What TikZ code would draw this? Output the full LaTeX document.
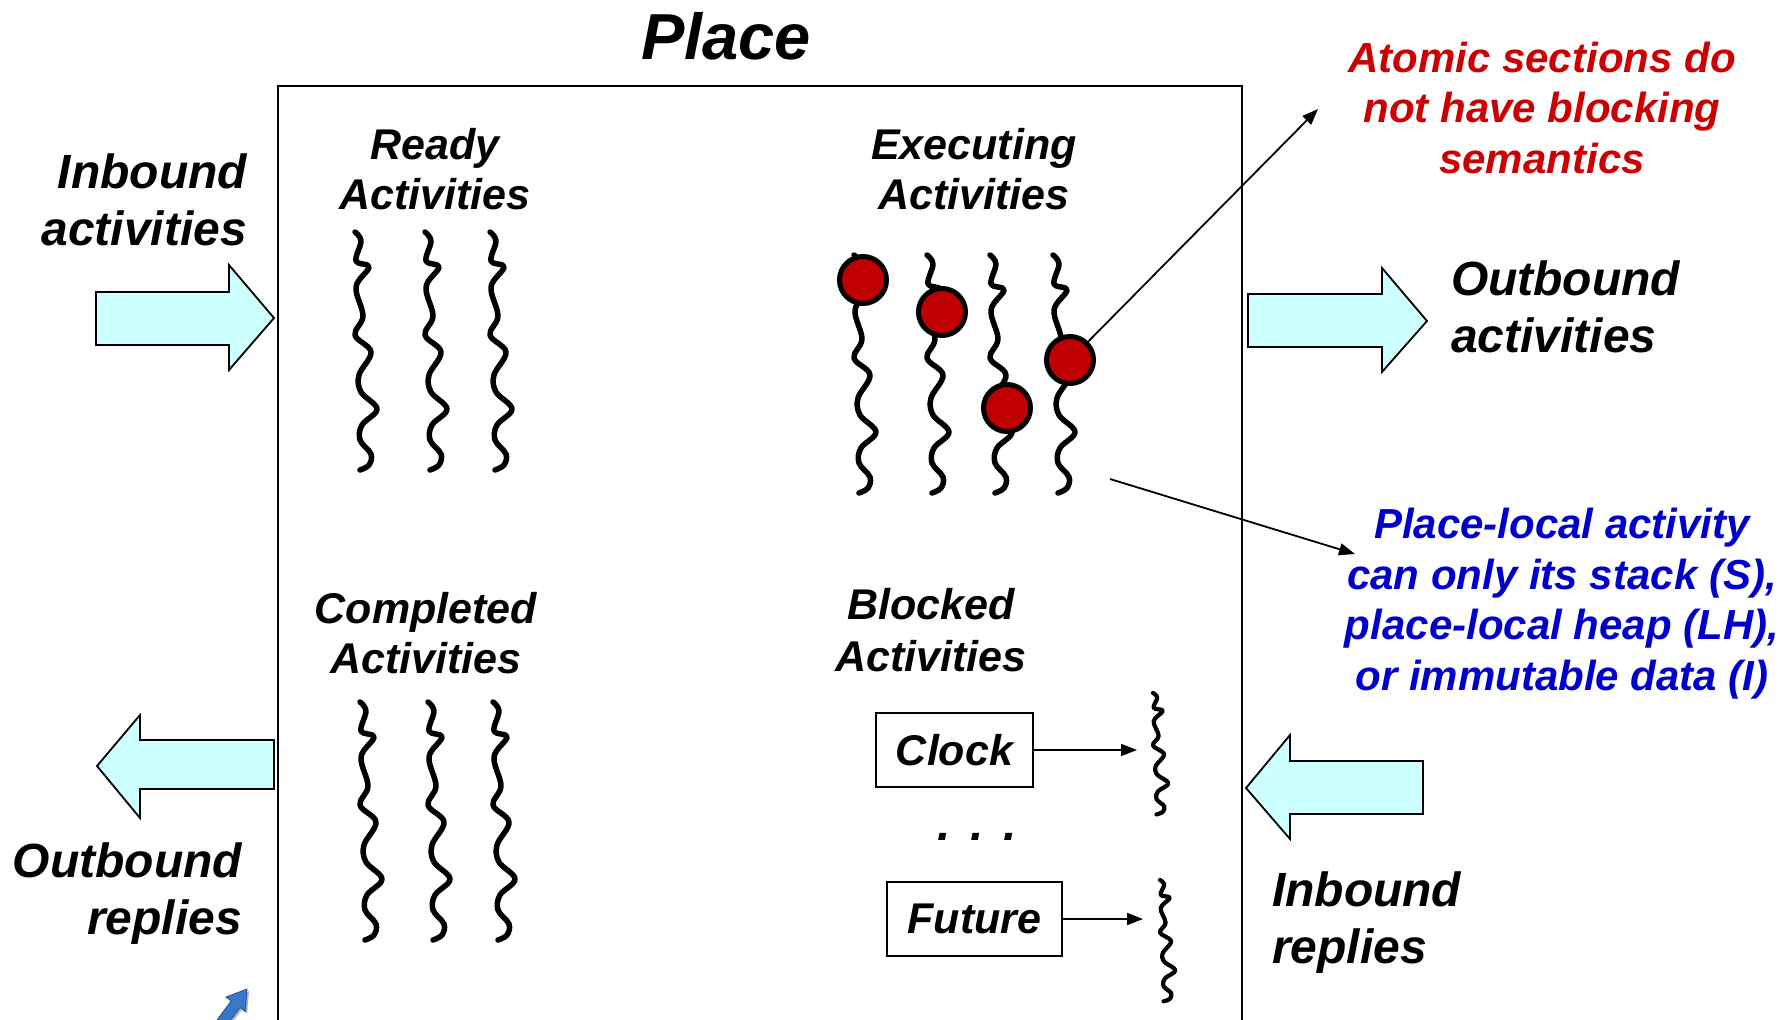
\documentclass[tikz,border=0pt]{standalone}
\usepackage{fontspec}
\setmainfont{Liberation Sans}
\usetikzlibrary{arrows.meta}

\definecolor{arrowfill}{HTML}{CCFFFF}
\definecolor{ballred}{HTML}{C00000}
\definecolor{notered}{HTML}{CC0000}
\definecolor{noteblue}{HTML}{0000CC}
\definecolor{linkblue}{HTML}{3A76CC}

\tikzset{
  txt/.style={inner sep=0pt, outer sep=0pt},
  huge/.style={txt, font=\fontsize{65}{70}\selectfont\bfseries\itshape},
  big/.style={txt, font=\fontsize{48}{57}\selectfont\bfseries\itshape},
  mid/.style={txt, font=\fontsize{43}{50}\selectfont\bfseries\itshape},
  note/.style={txt, font=\fontsize{42}{50.5}\selectfont\bfseries\itshape, align=center},
  blockarrow/.style={draw=black, fill=arrowfill, line width=1.8pt, line join=miter},
  stackbox/.style={draw, line width=2pt, inner sep=0pt, minimum height=74pt,
    font=\fontsize{43}{50}\selectfont\bfseries\itshape},
  ball/.style={circle, draw=black, fill=ballred, line width=5pt, minimum size=47pt, inner sep=0pt},
  conn/.style={line width=1.8pt, -{Triangle[length=16pt,width=12pt]}},
  pics/squig/.style={code={
    \draw[line cap=round, line join=round] plot[smooth, tension=0.6] coordinates {
      (0,0) (6,9) (1,29) (14,35) (1,55) (8,84) (0,103) (16,120) (4,143)
      (6,160) (22,177) (7,193) (5,208) (16,222) (14,233) (5,238)};
  }},
}

\begin{document}
\begin{tikzpicture}[x=1pt, y=-1pt]
\useasboundingbox (0,0) rectangle (1792,1020);
\clip (0,0) rectangle (1792,1020);
\fill[white] (0,0) rectangle (1792,1020);

% the place: an open-bottomed frame
\draw[line width=2pt] (278,1030) -- (278,86) -- (1242,86) -- (1242,1030);
\node[huge, anchor=base] (place) at (726,59) {Place};

% block arrows in and out of the place
\draw[blockarrow] (96,292) -- (229,292) -- (229,265) -- (274,318) -- (229,370) -- (229,345) -- (96,345) -- cycle;
\draw[blockarrow] (1248,294) -- (1382,294) -- (1382,268) -- (1427,321) -- (1382,372) -- (1382,347) -- (1248,347) -- cycle;
\draw[blockarrow] (274,740) -- (140,740) -- (140,715) -- (97,766) -- (140,818) -- (140,789) -- (274,789) -- cycle;
\draw[blockarrow] (1423,761) -- (1290,761) -- (1290,735) -- (1246,788) -- (1290,839) -- (1290,814) -- (1423,814) -- cycle;

% outside labels
\node[big, anchor=base east, align=right] (inact) at (247,245) {Inbound\\activities};
\node[big, anchor=base west, align=left] (outact) at (1451,352) {Outbound\\activities};
\node[big, anchor=base east, align=right] (outrep) at (242,934) {Outbound\\replies};
\node[big, anchor=base west, align=left] (inrep) at (1272,963) {Inbound\\replies};

% group labels inside the place
\node[mid, anchor=base, align=center] (ready) at (435,209) {Ready\\Activities};
\node[mid, anchor=base, align=center] (exec) at (974,209) {Executing\\Activities};
\node[mid, anchor=base, align=center] (done) at (426,673) {Completed\\Activities};
\node[txt, font=\fontsize{43}{52}\selectfont\bfseries\itshape, anchor=base, align=center] (blocked) at (931,671) {Blocked\\Activities};

% activity threads
\pic[line width=5.5pt] (r1) at (355,232) {squig};
\pic[line width=5.5pt] (r2) at (425,232) {squig};
\pic[line width=5.5pt] (r3) at (490,232) {squig};
\pic[line width=5.5pt] (c1) at (360,702) {squig};
\pic[line width=5.5pt] (c2) at (428,702) {squig};
\pic[line width=5.5pt] (c3) at (493,702) {squig};
\pic[line width=5.5pt] (e1) at (854,255) {squig};
\pic[line width=5.5pt] (e2) at (927,255) {squig};
\pic[line width=5.5pt] (e3) at (990,255) {squig};
\pic[line width=5.5pt] (e4) at (1053,255) {squig};

% atomic sections on the executing threads
\node[ball] (ball1) at (863,280) {};
\node[ball] (ball2) at (942,312) {};
\node[ball] (ball3) at (1007,408) {};
\node[ball] (ball4) at (1070,360) {};

% blocked activities
\node[stackbox, minimum width=157pt] (clock) at (954.5,750) {Clock};
\node[stackbox, minimum width=175pt] (future) at (974.5,919) {Future};
\pic[line width=4.2pt, xscale=0.7, yscale=0.51] (b1) at (1153,693) {squig};
\pic[line width=4.2pt, xscale=0.7, yscale=0.51] (b2) at (1160,880) {squig};
\coordinate (clkend) at (1137,750);
\coordinate (futend) at (1143,919);
\draw[conn] (clock.east) -- (clkend);
\draw[conn] (future.east) -- (futend);
\node[txt, font=\fontsize{48}{50}\selectfont\bfseries\itshape, anchor=base] (dots) at (977,840) {.\hspace{20pt}.\hspace{20pt}.};

% notes
\node[note, text=notered, anchor=base] (atomic) at (1542,173) {Atomic sections do\\not have blocking\\semantics};
\node[note, text=noteblue, anchor=base] (local) at (1562,690) {Place-local activity\\can only its stack (S),\\place-local heap (LH),\\or immutable data (I)};
\coordinate (redtip) at (1318,109);
\draw[conn] (ball4) -- (redtip);
\coordinate (lnA) at (1110,479);
\coordinate (lnB) at (1355,554);
\draw[conn] (lnA) -- (lnB);

% small link arrow at the lower left
\fill[gray!60] (249,991) -- (247.2,1013.4) -- (242,1009.5) -- (218,1041.5) -- (209.2,1034.9) -- (233.2,1002.9) -- (228,999) -- cycle;
\filldraw[fill=linkblue, draw=linkblue!70!black, line width=0.8pt]
  (247,989) -- (245.2,1011.4) -- (240,1007.5) -- (216,1039.5) -- (207.2,1032.9) -- (231.2,1000.9) -- (226,997) -- cycle;
\end{tikzpicture}
\end{document}
